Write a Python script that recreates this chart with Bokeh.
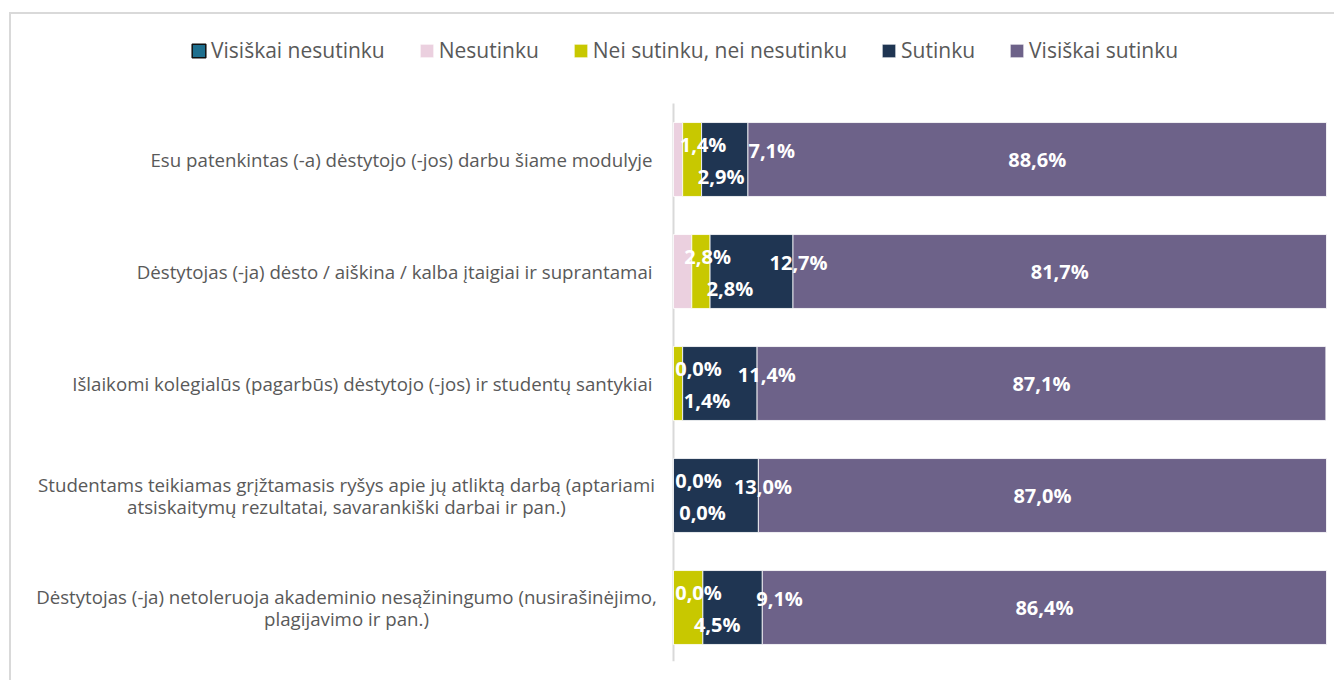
import numpy as np
from bokeh.plotting import figure
from bokeh.models import (ColumnDataSource, LabelSet, Legend, LegendItem, Range1d)
from bokeh.core.properties import value
from bokeh.embed import file_html
from bokeh.resources import INLINE

# ---------------- data ----------------
categories = [
    "Esu patenkintas (-a) dėstytojo (-jos) darbu šiame modulyje",
    "Dėstytojas (-ja) dėsto / aiškina / kalba įtaigiai ir suprantamai",
    "Išlaikomi kolegialūs (pagarbūs) dėstytojo (-jos) ir studentų santykiai",
    "Studentams teikiamas grįžtamasis ryšys apie jų atliktą darbą (aptariami\natsiskaitymų rezultatai, savarankiški darbai ir pan.)",
    "Dėstytojas (-ja) netoleruoja akademinio nesąžiningumo (nusirašinėjimo,\nplagijavimo ir pan.)",
]
series_names = ["Visiškai nesutinku", "Nesutinku", "Nei sutinku, nei nesutinku",
                "Sutinku", "Visiškai sutinku"]
visiskai_nesutinku = [0.0, 0.0, 0.0, 0.0, 0.0]
nesutinku = [1.4, 2.8, 0.0, 0.0, 0.0]
nei_sutinku_nei_nesutinku = [2.9, 2.8, 1.4, 0.0, 4.5]
sutinku = [7.1, 12.7, 11.4, 13.0, 9.1]
visiskai_sutinku = [88.6, 81.7, 87.1, 87.0, 86.4]

series_values = [visiskai_nesutinku, nesutinku, nei_sutinku_nei_nesutinku,
                 sutinku, visiskai_sutinku]

# ---------------- styles / layout ----------------
colors = ["#1E6F8E", "#EBD0DF", "#C8C800", "#1F3552", "#6D6289"]
show_labels = [False, True, True, True, True]
label_dx = [0, 25, 29, 47, 0]      # screen px offsets of data labels
label_dy = [0, 15, -17, 9, 0]
TEXT_GREY = "#595959"
FONT = "Open Sans"
CAT_FONT_SIZE = "18.7px"
CAT_LINE_SPACING = 22               # px between wrapped label lines

W, H = 1325, 668                     # canvas size
CANVAS_X, CANVAS_Y = 11, 14          # canvas position on page
PLOT_X0, PLOT_X1 = 673, 1326         # pixel positions of 0 % and 100 %
ROW0_Y, ROW_STEP = 159, 112          # pixel centre of first row, row spacing

px_per_unit = (PLOT_X1 - PLOT_X0) / 100.0
x_start = -(PLOT_X0 - CANVAS_X) / px_per_unit
x_end = x_start + W / px_per_unit
y_top = (CANVAS_Y - ROW0_Y) / ROW_STEP
y_bottom = (CANVAS_Y + H - ROW0_Y) / ROW_STEP

p = figure(width=W, height=H, output_backend="svg", toolbar_location=None,
           x_range=Range1d(x_start, x_end), y_range=Range1d(y_bottom, y_top),
           x_axis_type=None, y_axis_type=None,
           min_border=0,
           stylesheets=[":host { margin-left: 9px; margin-top: 12px; "
                        "border-left: 2px solid #D9D9D9; border-top: 2px solid #D9D9D9; }"])
p.xgrid.grid_line_color = None
p.ygrid.grid_line_color = None
p.outline_line_color = None
p.background_fill_color = "white"
p.border_fill_color = "white"

ypos = np.arange(len(categories), dtype=float)

# vertical category axis line
p.segment(x0=[0], x1=[0], y0=[ypos[0] - 0.5], y1=[ypos[-1] + 0.48],
          line_color="#D9D9D9", line_width=2)

left = np.zeros(len(categories))
legend_items = []
for i, (name, vals) in enumerate(zip(series_names, series_values)):
    vals = np.array(vals, dtype=float)
    right = left + vals
    src = ColumnDataSource(dict(y=ypos, left=left.copy(), right=right,
                                mid=(left + right) / 2,
                                txt=[f"{v:.1f}".replace(".", ",") + "%" for v in vals]))
    r = p.hbar(y="y", left="left", right="right", height=0.66, source=src,
               fill_color=colors[i], line_color="white" if vals.sum() > 0 else None,
               line_width=0.8)
    if i == 0:
        # legend swatch only (the series itself is zero everywhere)
        proxy = p.hbar(y=[np.nan], left=[np.nan], right=[np.nan], height=0.66,
                       fill_color=colors[i], line_color="#111111", line_width=1.5)
        legend_items.append(LegendItem(label=name, renderers=[proxy]))
    else:
        legend_items.append(LegendItem(label=name, renderers=[r]))
    if show_labels[i]:
        p.add_layout(LabelSet(x="mid", y="y", text="txt", source=src,
                              x_offset=label_dx[i], y_offset=label_dy[i],
                              text_align="center", text_baseline="middle",
                              text_color="white", text_font=value(FONT),
                              text_font_style="bold", text_font_size="20px"))
    left = right

# category labels: single-line ones right aligned next to the axis,
# wrapped ones centred (line by line) in the label area
single_t, single_y = [], []
multi_t, multi_y, multi_off = [], [], []
for c, y in zip(categories, ypos):
    lines = c.split("\n")
    if len(lines) == 1:
        single_t.append(c)
        single_y.append(y)
    else:
        n = len(lines)
        for k, ln in enumerate(lines):
            multi_t.append(ln)
            multi_y.append(y)
            multi_off.append(((n - 1) / 2 - k) * CAT_LINE_SPACING)

p.add_layout(LabelSet(x=0, y="y", text="t",
                      source=ColumnDataSource(dict(t=single_t, y=single_y)),
                      x_offset=-21, text_align="right", text_baseline="middle",
                      text_color=TEXT_GREY, text_font=value(FONT),
                      text_font_size=CAT_FONT_SIZE))
p.add_layout(LabelSet(x=0, y="y", text="t", y_offset="off",
                      source=ColumnDataSource(dict(t=multi_t, y=multi_y, off=multi_off)),
                      x_offset=-327, text_align="center", text_baseline="middle",
                      text_color=TEXT_GREY, text_font=value(FONT),
                      text_font_size=CAT_FONT_SIZE))

legend = Legend(items=legend_items, orientation="horizontal", location=(179, 618),
                glyph_width=17, glyph_height=17, label_standoff=4, spacing=33,
                padding=0, margin=0, border_line_color=None,
                background_fill_alpha=0, label_text_font=FONT,
                label_text_font_size="21px", label_text_color=TEXT_GREY)
p.add_layout(legend, "center")

open("out.html", "w").write(file_html(p, INLINE))
